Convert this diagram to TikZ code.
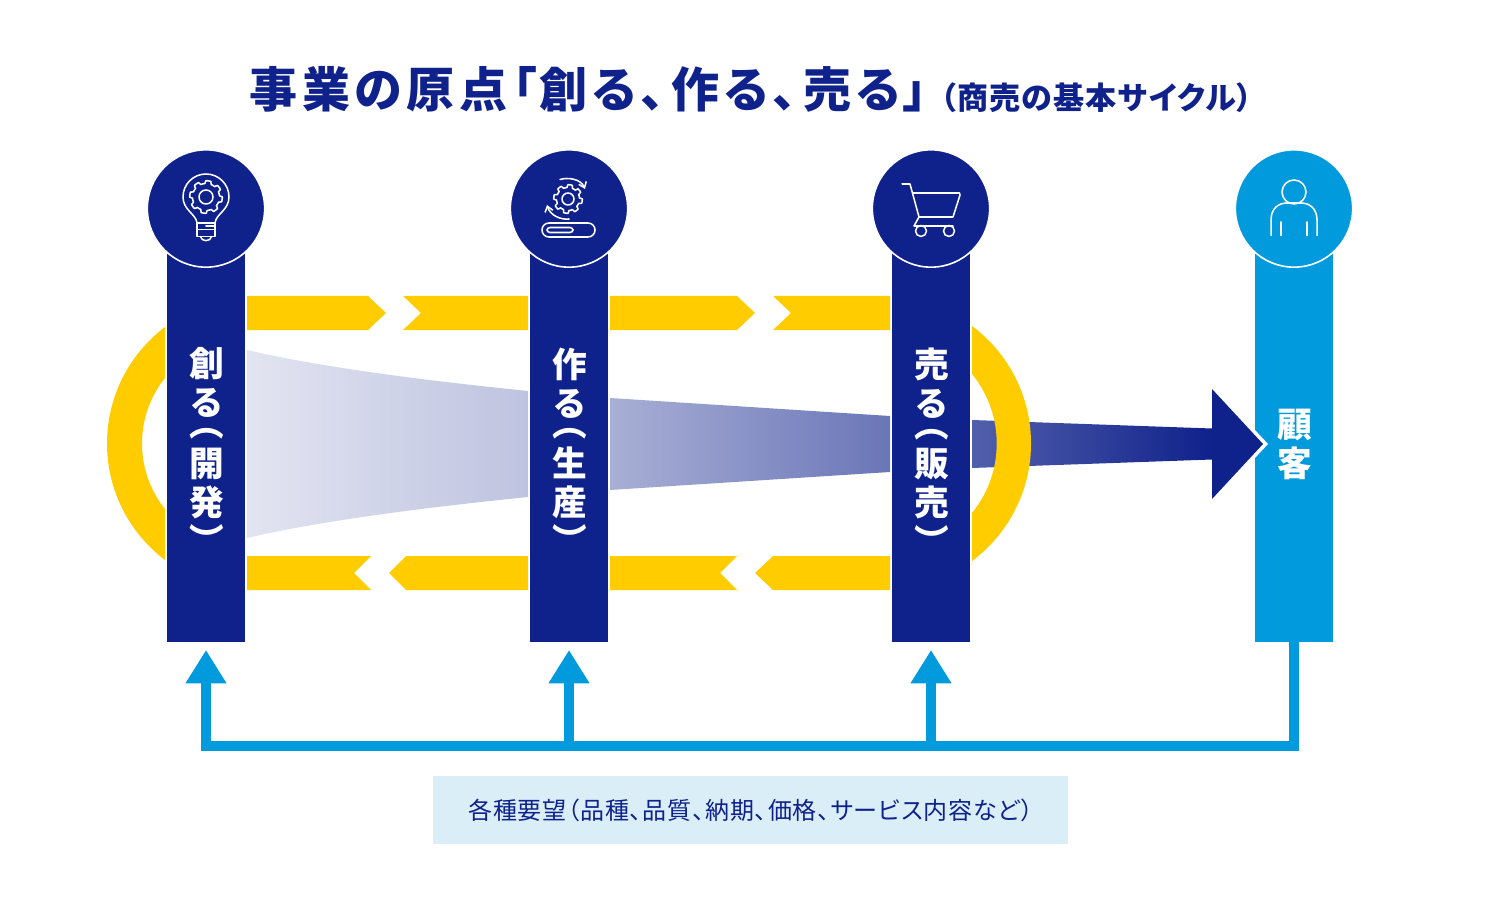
\documentclass[tikz,border=0pt]{standalone}
\usepackage{fontspec}
\usetikzlibrary{arrows.meta}
\setmainfont{Noto Sans CJK JP}
\newfontfamily\jp[RawFeature=+palt,LetterSpace=3.5]{Noto Sans CJK JP}
\newfontfamily\jpt[RawFeature=+palt,LetterSpace=10]{Noto Sans CJK JP}
\newfontfamily\jps[RawFeature=+palt,LetterSpace=4]{Noto Sans CJK JP}
\newfontfamily\jpv[RawFeature=+vert]{Noto Sans CJK JP}
\definecolor{navy}{HTML}{0F218B}
\definecolor{sky}{HTML}{009ADD}
\definecolor{gold}{HTML}{FFCC00}
\definecolor{pale}{HTML}{DAEEF8}
\tikzset{
 barbox/.style={rectangle,inner sep=0pt,minimum width=58.5pt,minimum height=291.75pt},
 disc/.style={circle,inner sep=0pt,minimum size=88pt,draw=white,line width=1.2pt},
 vlabel/.style={text=white,font=\jpv\bfseries\fontsize{26}{29.25}\selectfont,align=center,inner sep=0pt},
 feedback/.style={draw=sky,line width=7.5pt},
 feedarrow/.style={feedback,-{Triangle[length=25pt,width=29pt]}},
 icon/.style={draw=white,line width=1.15pt,line join=round,line cap=round},
 chev/.style={fill=gold}
}
\newcommand{\gearicon}[4]{%
 \draw[icon] plot[domain=0:360,samples=145,variable=\t]
  ({#1+(#3+2.8*max(0,min(1,0.5+1.6*sin(8*\t+22.5))))*cos(\t)},{#2+(#3+2.8*max(0,min(1,0.5+1.6*sin(8*\t+22.5))))*sin(\t)})--cycle;
 \draw[icon] (#1,#2) circle (#4);}
\begin{document}
\begin{tikzpicture}[x=.75pt,y=-.75pt]
\useasboundingbox (0,0) rectangle (1501,905);
% title
\node[anchor=base west,inner sep=0pt,text=navy,font=\jpt\bfseries\fontsize{36}{40}\selectfont] (title) at (249,108)
 {事業の原点「\hspace{2pt}創る、\hspace{4.5pt}作る、\hspace{4.5pt}売る\hspace{2pt}」};
\node[anchor=base west,inner sep=0pt,text=navy,font=\jps\bfseries\fontsize{23.3}{26}\selectfont] (subtitle) at (940,110)
 {（商売の基本サイクル）};
% flow bands
\shade[left color=navy!12,right color=navy!27] (247,350) .. controls (320,367) and (420,380) .. (528,391) -- (528,497) .. controls (420,508) and (320,521) .. (247,538) -- cycle;
\shade[left color=navy!36,right color=navy!62] (610,398) -- (890,416) -- (890,472) -- (610,490) -- cycle;
\shade[left color=navy!72,right color=navy] (972,420) -- (1212,428.5) -- (1212,459.5) -- (972,468) -- cycle;
% gold arcs
\begin{scope}
\clip (90,300) rectangle (165,600);
\fill[gold,even odd rule] (253,443.5) circle (146) (247,443.5) circle (105);
\end{scope}
\begin{scope}
\clip (972,300) rectangle (1050,600);
\fill[gold,even odd rule] (884.5,443.5) circle (146.5) (886.7,443.5) circle (110);
\end{scope}
% chevrons
\fill[chev] (247,296) -- (368,296) -- (386,313) -- (368,330) -- (247,330) -- cycle;
\fill[chev] (403,296) -- (528,296) -- (528,330) -- (403,330) -- (421,313) -- cycle;
\fill[chev] (610,296) -- (737,296) -- (755,313) -- (737,330) -- (610,330) -- cycle;
\fill[chev] (773,296) -- (890,296) -- (890,330) -- (773,330) -- (791,313) -- cycle;
\fill[chev] (247,556) -- (371,556) -- (354,573) -- (371,590) -- (247,590) -- cycle;
\fill[chev] (406,556) -- (528,556) -- (528,590) -- (406,590) -- (389,573) -- cycle;
\fill[chev] (610,556) -- (737,556) -- (720,573) -- (737,590) -- (610,590) -- cycle;
\fill[chev] (773,556) -- (890,556) -- (890,590) -- (773,590) -- (755,573) -- cycle;
% bars
\node[barbox,fill=navy] (bar1) at (206,447.5) {};
\node[barbox,fill=navy] (bar2) at (569,447.5) {};
\node[barbox,fill=navy] (bar3) at (931,447.5) {};
\node[barbox,fill=sky] (bar4) at (1294,447.5) {};
\node[disc,fill=navy] (disc1) at (206,208.5) {};
\node[disc,fill=navy] (disc2) at (569,208.5) {};
\node[disc,fill=navy] (disc3) at (931,208.5) {};
\node[disc,fill=sky] (disc4) at (1294,208.5) {};
% arrow head into customer
\fill[white] (1212,384) -- (1268,444) -- (1212,504) -- cycle;
\fill[navy] (1212,389) -- (1263,444) -- (1212,499) -- cycle;
% bar labels
\node[vlabel,anchor=north] (lab1) at (206.7,347.5) {創\\る\\[-13.75pt]（\\[.5pt]開\\発\\[-.5pt]）};
\node[vlabel,anchor=north] (lab2) at (569.7,347.5) {作\\る\\[-13.75pt]（\\[.5pt]生\\産\\[-.5pt]）};
\node[vlabel,anchor=north] (lab3) at (931.7,347.5) {売\\る\\[-13.75pt]（\\[.5pt]販\\売\\[-.5pt]）};
\node[vlabel,anchor=north] (lab4) at (1294.7,408.5) {顧\\客};
% icon 1: bulb
\gearicon{206}{197}{13.5}{7}
\draw[icon] (197,223) .. controls (196,214) and (183,210) .. (183,197) arc[start angle=180,end angle=360,radius=23] .. controls (229,210) and (216,214) .. (215,223) -- cycle;
\draw[icon] (197,223) -- (197,236.5) -- (215,236.5) -- (215,223) (197,229.5) -- (215,229.5) (206,226) -- (215,226);
\draw[icon] (200.5,236.5) .. controls (201,242) and (211,242) .. (211.5,236.5);
% icon 2: gear and belt
\gearicon{568}{199}{11.5}{6}
\draw[icon,-{Straight Barb[length=4pt,width=6pt]}] (560,179.5) .. controls (568,177) and (581,179) .. (585,189);
\draw[icon,-{Straight Barb[length=4pt,width=6pt]}] (569,219) .. controls (560,220) and (550,215) .. (547,205);
\draw[icon,rounded corners=5.2pt] (542,223) rectangle (595,237);
\draw[icon,rounded corners=2.2pt] (547,227.5) rectangle (573,232.5);
% icon 3: cart
\draw[icon] (902,184) -- (910,184) -- (919,217) -- (953,217) -- (960,195) -- (959.5,193) -- (913,193);
\draw[icon] (919,217) -- (914,226) -- (953,226);
\draw[icon] (921,231) circle (5.5) (949,231) circle (5.5);
% icon 4: person
\draw[icon] (1294,192) circle (12);
\draw[icon] (1271,235.5) -- (1271,220) .. controls (1271,208) and (1279,203) .. (1287,203) -- (1301,203) .. controls (1309,203) and (1317,208) .. (1317,220) -- (1317,235.5);
\draw[icon] (1281,222) -- (1281,235.5) (1307,222) -- (1307,235.5);
% feedback connectors
\coordinate (tip1) at (206,650);
\coordinate (tip2) at (569,650);
\coordinate (tip3) at (931,650);
\coordinate (corner) at (1294,746);
\coordinate (join2) at (569,746);
\coordinate (join3) at (931,746);
\draw[feedarrow] (bar4.south) -- (corner) -| (tip1);
\draw[feedarrow] (join2) -- (tip2);
\draw[feedarrow] (join3) -- (tip3);
% request box
\fill[pale] (433,776) rectangle (1068,844);
\node[anchor=base west,inner sep=0pt,text=navy,font=\jp\fontsize{18}{22}\selectfont] (req) at (468,819)
 {各種要望（品種、品質、納期、価格、サービス内容など）};
\end{tikzpicture}
\end{document}
